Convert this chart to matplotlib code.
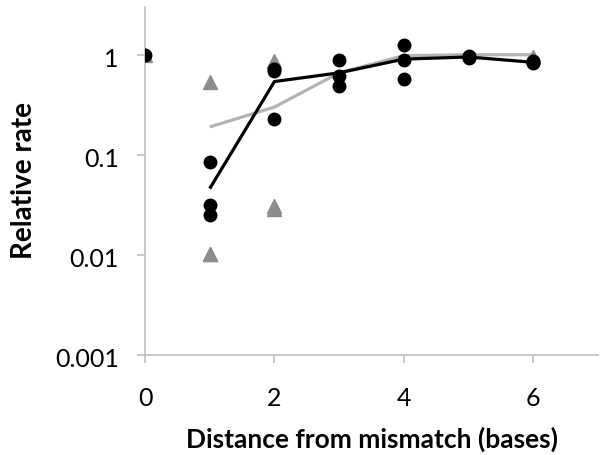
import matplotlib
matplotlib.use("Agg")
import matplotlib.pyplot as plt
import matplotlib.transforms as mtransforms
from matplotlib.ticker import FixedLocator, NullLocator

# Individual measurements (circles)
circle_x = [0, 1, 1, 1, 2, 2, 2, 3, 3, 3, 4, 4, 4, 5, 5, 5, 6, 6, 6]
circle_y = [1.0, 0.084, 0.0316, 0.025, 0.72, 0.69, 0.227, 0.877, 0.61, 0.49,
            1.26, 0.877, 0.57, 0.98, 0.95, 0.93, 0.86, 0.82, 0.84]

# Individual measurements (triangles)
tri_x = [0, 1, 1, 1, 2, 2, 2, 6]
tri_y = [1.0, 0.54, 0.0102, 0.0102, 0.857, 0.031, 0.029, 0.95]

# Mean lines
line_x = [1, 2, 3, 4, 5, 6]
black_mean = [0.046, 0.54, 0.66, 0.905, 0.95, 0.84]
gray_mean = [0.19, 0.30, 0.66, 0.98, 1.0, 1.0]

xticks = [0, 2, 4, 6]
yticks = [0.001, 0.01, 0.1, 1]
ytick_labels = ["0.001", "0.01", "0.1", "1"]

plt.rcParams['font.family'] = ['Lato', 'DejaVu Sans']

fig = plt.figure(figsize=(6, 4.55), dpi=100)
ax = fig.add_axes([0.2417, 0.2198, 0.755, 0.7648])

ax.plot(line_x, gray_mean, color="#b3b3b3", lw=2.3, zorder=2, solid_capstyle="butt")
ax.plot(line_x, black_mean, color="black", lw=2.3, zorder=3, solid_capstyle="butt")
ax.plot(tri_x, tri_y, linestyle="none", marker="^", color="#8c8c8c",
        markersize=10, zorder=4)
ax.plot(circle_x, circle_y, linestyle="none", marker="o", color="black",
        markersize=9, zorder=5)

ax.set_yscale("log")
ax.set_ylim(0.001, 3.0)
ax.set_xlim(0, 7)
ax.yaxis.set_major_locator(FixedLocator(yticks))
ax.yaxis.set_minor_locator(NullLocator())
ax.set_yticklabels(ytick_labels)
ax.set_xticks(xticks)

for s in ["top", "right"]:
    ax.spines[s].set_visible(False)
for s in ["left", "bottom"]:
    ax.spines[s].set_color("#c0c0c0")
    ax.spines[s].set_linewidth(1.2)
    ax.spines[s].set_clip_on(False)

ax.tick_params(axis="both", colors="#c0c0c0", width=1.2, length=6,
               labelcolor="black", labelsize=18, direction="out")
ax.tick_params(axis="x", pad=17)
ax.tick_params(axis="y", pad=13)

# nudge y tick labels slightly down, like the reference
offset = mtransforms.ScaledTranslation(0, -3 / 100, fig.dpi_scale_trans)
for lab in ax.get_yticklabels():
    lab.set_transform(lab.get_transform() + offset)

ax.set_xlabel("Distance from mismatch (bases)", fontsize=19,
              fontweight="bold", labelpad=12)
ax.set_ylabel("Relative rate", fontsize=20, fontweight="bold", labelpad=13)

fig.savefig("out.png", dpi=100)
